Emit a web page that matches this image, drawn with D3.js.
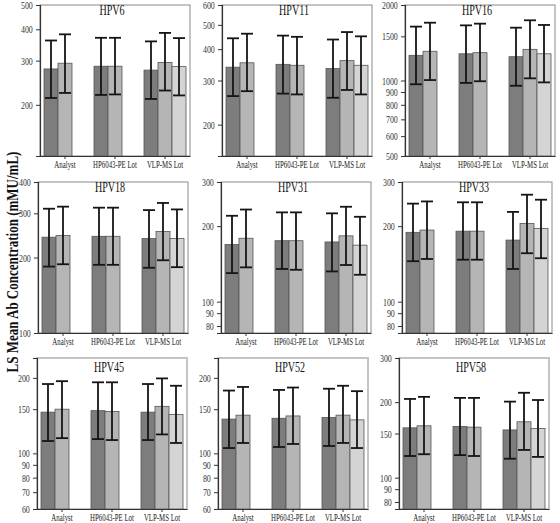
<!DOCTYPE html>
<html><head><meta charset="utf-8">
<script src="https://cdn.jsdelivr.net/npm/d3@7"></script>
<style>body{margin:0;background:#fff}svg{display:block}</style>
</head><body>
<svg id="c" width="560" height="523"></svg>
<script>
const categories = ["Analyst", "HP6043-PE Lot", "VLP-MS Lot"];
const panels = ["HPV6", "HPV11", "HPV16", "HPV18", "HPV31", "HPV33", "HPV45", "HPV52", "HPV58"];
const yMin = [125, 150, 500, 100, 75, 75, 60, 60, 75];
const yMax = [500, 600, 2000, 400, 300, 300, 240, 240, 300];
const yTicks = [
  [200, 300, 400, 500],
  [200, 300, 400, 500, 600],
  [500, 600, 700, 800, 900, 1000, 1500, 2000],
  [100, 200, 300, 400],
  [80, 90, 100, 200, 300],
  [80, 90, 100, 200, 300],
  [60, 70, 80, 90, 100, 150, 200],
  [60, 70, 80, 90, 100, 150, 200],
  [80, 90, 100, 150, 200, 300]
];
// order of bars: Analyst s1, s2 | HP6043-PE s1, s2 | VLP-MS s1, s2, s3
const barCategory = [0, 0, 1, 1, 2, 2, 2];
const barSeries = [0, 1, 0, 1, 0, 1, 2];
const means = [
  [278, 293, 285, 285, 275, 295, 284],
  [339, 353, 348, 345, 335, 360, 345],
  [1260, 1308, 1278, 1291, 1244, 1331, 1278],
  [241, 245, 243, 243, 238, 254, 238],
  [169, 179, 175, 175, 173, 183, 168],
  [189, 193, 191, 191, 176, 205, 196],
  [146, 150, 148, 147, 146, 154, 143],
  [137, 142, 138, 141, 139, 142, 136],
  [158, 161, 160, 159, 155, 167, 157]
];
const upper = [
  [361, 382, 370, 370, 358, 387, 369],
  [442, 461, 453, 448, 437, 468, 450],
  [1640, 1700, 1659, 1685, 1624, 1738, 1665],
  [313, 319, 316, 316, 309, 330, 311],
  [220, 233, 227, 227, 225, 239, 218],
  [246, 251, 249, 249, 228, 267, 255],
  [189, 194, 192, 192, 189, 199, 186],
  [178, 184, 179, 183, 181, 186, 177],
  [206, 210, 208, 208, 201, 218, 204]
];
const lower = [
  [213, 223, 219, 220, 211, 228, 218],
  [260, 272, 266, 264, 256, 275, 264],
  [966, 1004, 978, 993, 953, 1020, 983],
  [184, 188, 187, 187, 182, 195, 183],
  [130, 137, 135, 134, 132, 140, 128],
  [145, 148, 147, 147, 135, 156, 149],
  [112, 115, 114, 113, 113, 119, 110],
  [105, 110, 106, 109, 107, 110, 105],
  [122, 124, 123, 122, 119, 129, 121]
];
const seriesColors = ["#7d7d7d", "#b5b5b5", "#d4d4d4"];

// layout
const panelLeft = [40, 222, 405, 38, 221, 402, 37, 218, 399];
const panelTop = [5, 5, 5, 182, 182, 182, 358, 358, 358];
const PW = 150, PH = 151;
const SX = 0.72; // horizontal text compression
const font = "'Liberation Serif','Times New Roman',serif";

const svg = d3.select("#c");

panels.forEach((name, p) => {
  const g = svg.append("g").attr("transform", `translate(${panelLeft[p]},${panelTop[p]})`);
  const row = Math.floor(p / 3);
  const x = d3.scaleBand().domain(categories).range([0, PW]);
  const xs = d3.scaleBand().domain([0, 1, 2]).range([0, 42]);
  const y = d3.scaleLog().domain([yMin[p], yMax[p]]).range([PH, 0]);

  g.append("rect").attr("x", 0).attr("y", 0).attr("width", PW).attr("height", PH)
    .attr("fill", "none").attr("stroke", row === 2 ? "#c4c4c4" : "#8a8a8a")
    .attr("stroke-width", row === 2 ? 2 : 1);

  const idx = d3.range(means[p].length);
  g.selectAll("rect.bar").data(idx).join("rect").attr("class", "bar")
    .attr("x", i => x(categories[barCategory[i]]) + x.bandwidth() / 2 - 21 + xs(barSeries[i]))
    .attr("width", xs.bandwidth())
    .attr("y", i => y(means[p][i]))
    .attr("height", i => PH - y(means[p][i]))
    .attr("fill", i => seriesColors[barSeries[i]])
    .attr("stroke", "#555").attr("stroke-width", 0.8);

  const eb = g.selectAll("g.err").data(idx).join("g").attr("class", "err")
    .attr("transform", i => `translate(${x(categories[barCategory[i]]) + x.bandwidth() / 2 - 21 + xs(barSeries[i]) + xs.bandwidth() / 2},0)`);
  eb.append("line").attr("x1", 0).attr("x2", 0)
    .attr("y1", i => y(upper[p][i])).attr("y2", i => y(lower[p][i]))
    .attr("stroke", "#151515").attr("stroke-width", 1.8);
  eb.append("line").attr("x1", -6).attr("x2", 6)
    .attr("y1", i => y(upper[p][i])).attr("y2", i => y(upper[p][i]))
    .attr("stroke", "#151515").attr("stroke-width", 1.8);
  eb.append("line").attr("x1", -6).attr("x2", 6)
    .attr("y1", i => y(lower[p][i])).attr("y2", i => y(lower[p][i]))
    .attr("stroke", "#151515").attr("stroke-width", 1.8);

  const ya = g.append("g").call(d3.axisLeft(y).tickValues(yTicks[p]).tickFormat(d3.format("d")).tickSizeOuter(0).tickSize(4));
  ya.select(".domain").attr("stroke", "#333").attr("stroke-width", 1.2);
  ya.selectAll(".tick line").attr("stroke", "#333");
  ya.selectAll(".tick text").attr("x", -10).attr("font-family", font).attr("font-size", 11)
    .attr("fill", "#333").attr("transform", `scale(${SX},1)`);

  const xa = g.append("g").attr("transform", `translate(0,${PH})`)
    .call(d3.axisBottom(x).tickSize(3).tickSizeOuter(0));
  xa.select(".domain").attr("stroke", "#333").attr("stroke-width", 1.2);
  xa.selectAll(".tick line").attr("stroke", "#333");
  xa.selectAll(".tick text").attr("y", 5).attr("dy", "0.71em").attr("font-family", font)
    .attr("font-size", 9.5).attr("fill", "#222").attr("transform", `scale(${SX},1)`);

  g.append("text").attr("transform", `translate(${PW / 2 - 3},${row === 2 ? 14 : 10}) scale(${SX},1)`)
    .attr("text-anchor", "middle").attr("font-family", font).attr("font-size", 14)
    .attr("fill", "#111").text(name);
});

svg.append("text")
  .attr("transform", "translate(18,262) rotate(-90) scale(1,1.25)")
  .attr("text-anchor", "middle").attr("font-family", font).attr("font-weight", "bold")
  .attr("font-size", 13).attr("fill", "#111")
  .text("LS Mean Ab Concentration (mMU/mL)");
</script>
</body></html>
